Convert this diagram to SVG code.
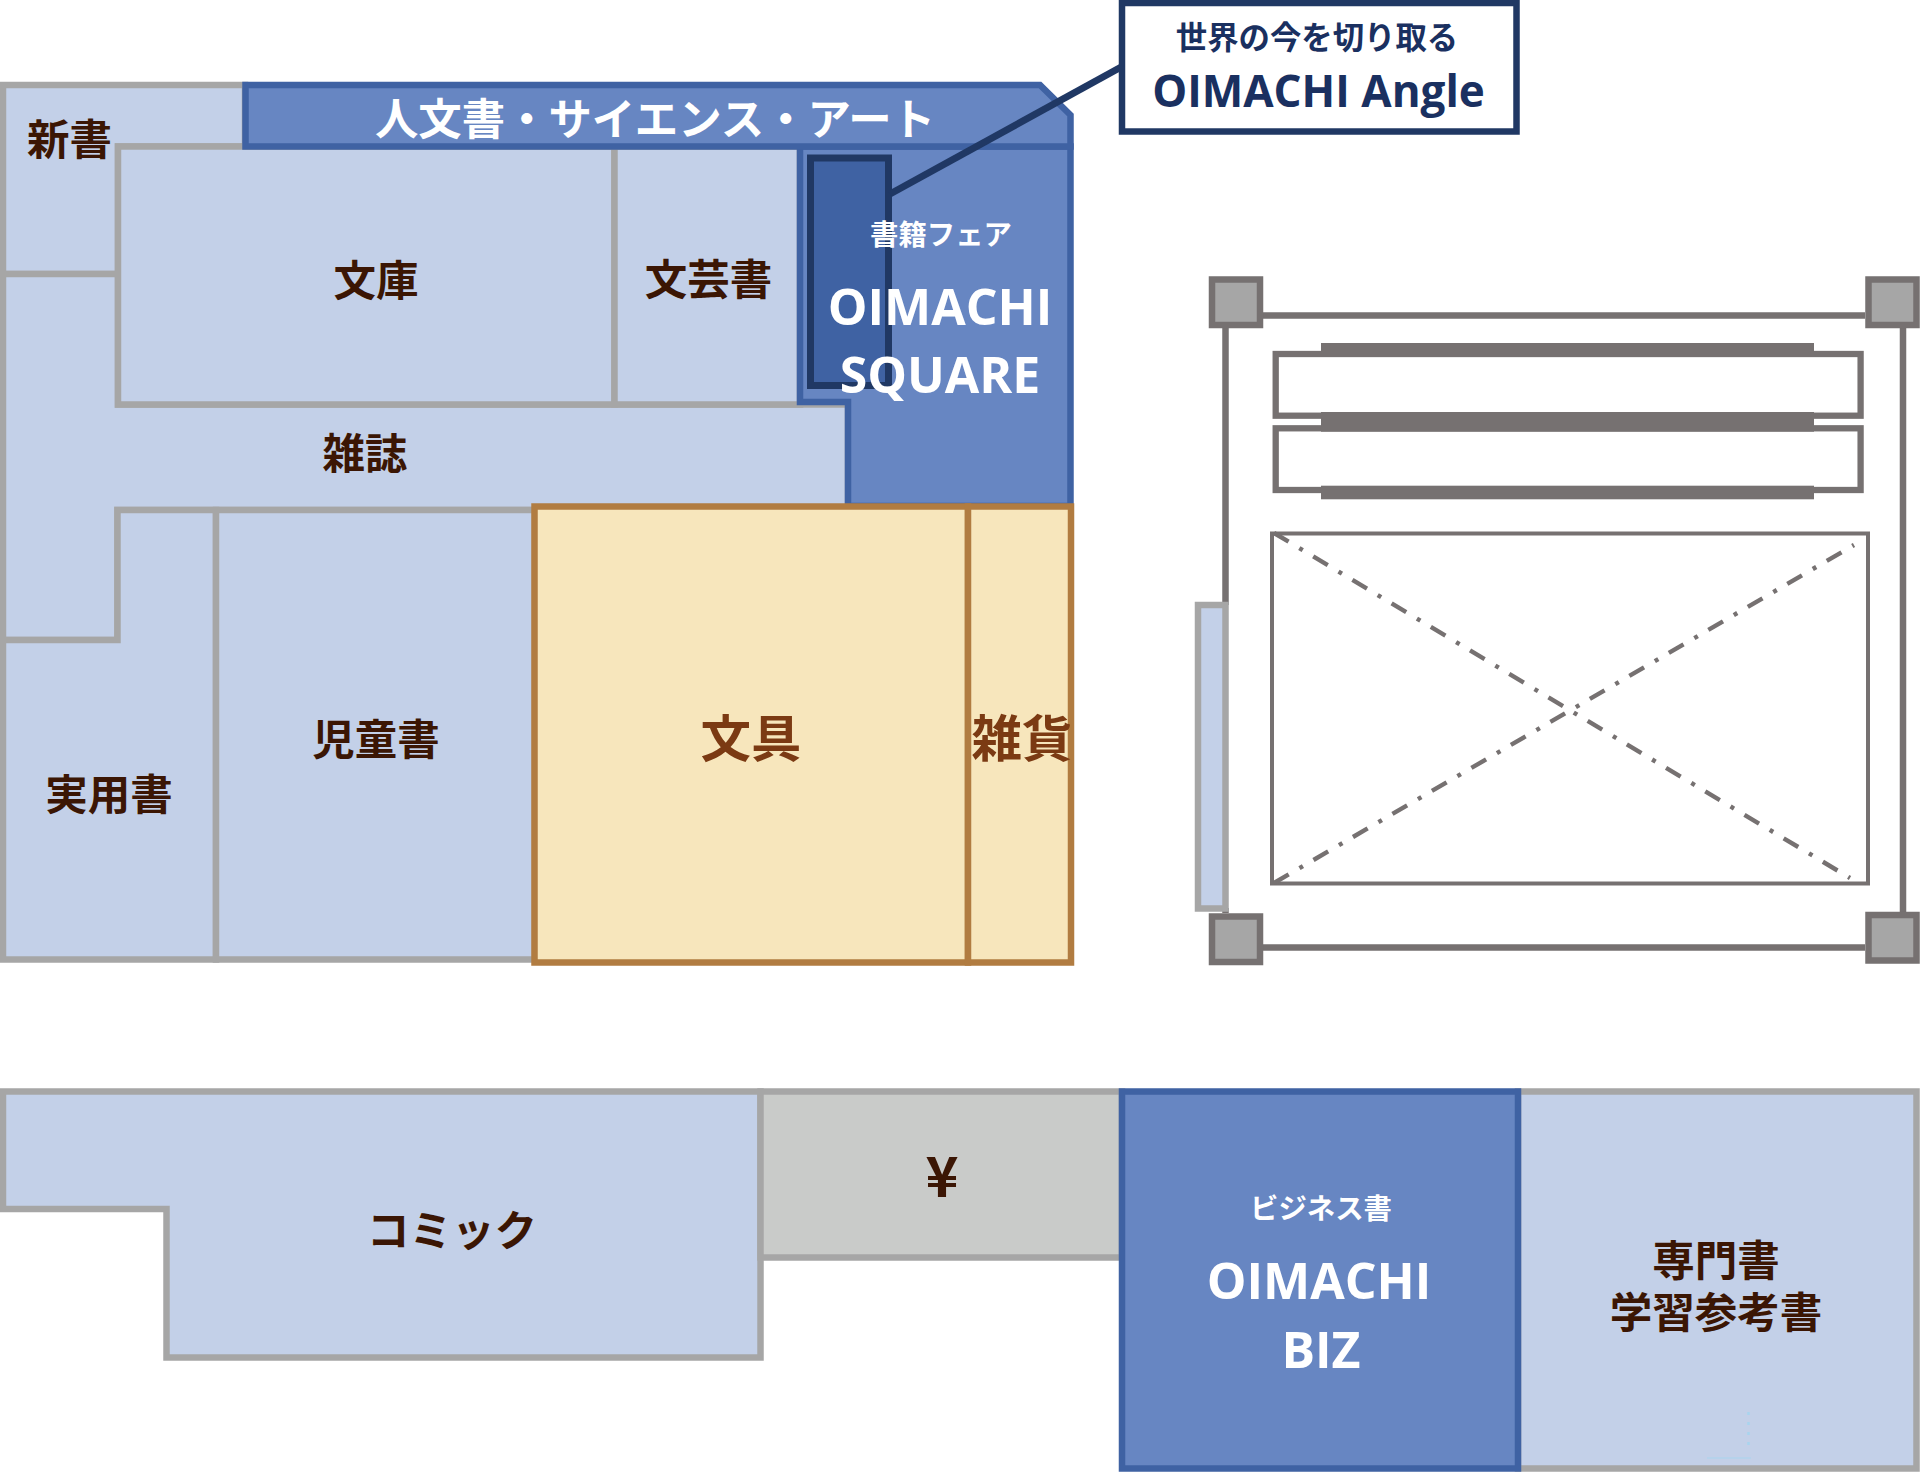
<svg xmlns="http://www.w3.org/2000/svg" width="1920" height="1472" viewBox="0 0 1920 1472">
<style>
text{font-family:"Noto Sans CJK JP","Noto Sans",sans-serif;text-anchor:middle}
.j{font-size:42.5px;font-weight:700;fill:#3b1604}
.y{font-size:50.5px;font-weight:700;fill:#7b3a13}
.w{font-size:43.4px;font-weight:700;fill:#fff}
.s{font-size:28.4px;font-weight:700;fill:#fff}
.l{font-family:"Open Sans","Noto Sans",sans-serif;font-size:50px;font-weight:700;fill:#fff}
.zone{fill:#c3d0e8;stroke:#a6a6a6;stroke-width:6.5;stroke-linejoin:miter}
.gz{fill:#c9cbc9;stroke:#a6a6a6;stroke-width:6.5}
.bz{fill:#6786c2;stroke:#3f62a3;stroke-width:6.5}
.yz{fill:#f7e6bc;stroke:#b17c41;stroke-width:6.5}
.wall{fill:none;stroke:#767171;stroke-width:6.5}
.post{fill:#a6a6a6;stroke:#767171;stroke-width:6.5}
.slat{fill:#fff;stroke:#767171;stroke-width:6.3}
.bar{fill:#767171}
.diag{fill:none;stroke:#767171;stroke-width:4.4;stroke-dasharray:17 12.5 4 12.2}
</style>

<g id="shinsho"><path class="zone" d="M3 85H245V146.5H118V274H3Z"/><text class="j" x="69.5" y="155">新書</text></g>
<g id="zasshi"><path class="zone" d="M3 274H118V404.5H848V510H117.5V640H3Z"/><text class="j" x="365" y="469">雑誌</text></g>
<g id="bunko"><rect class="zone" x="118" y="146.5" width="496.5" height="258"/><text class="j" x="376" y="295.5">文庫</text></g>
<g id="bungei"><rect class="zone" x="614.5" y="146.5" width="185.5" height="258"/><text class="j" x="708.5" y="294.5">文芸書</text></g>
<g id="jitsuyo"><path class="zone" d="M3 640H117.5V510H216V959.5H3Z"/><text class="j" x="109" y="810">実用書</text></g>
<g id="jido"><rect class="zone" x="216" y="510" width="319" height="449.5"/><text class="j" x="376" y="755">児童書</text></g>

<g id="oimachi-square"><path class="bz" d="M800 146.5H1070.5V506H848V402H800Z"/></g>
<g id="jinbun"><path class="bz" d="M245.5 85H1040L1070.5 115V146.5H245.5Z"/><text class="w" x="655" y="134.5">人文書・サイエンス・アート</text></g>
<g id="angle-shelf"><rect x="810.5" y="158" width="78" height="227.5" fill="#3f62a3" stroke="#203864" stroke-width="7"/></g>
<g id="oimachi-square-label"><text class="s" x="941" y="245">書籍フェア</text><text class="l" x="940" y="325">OIMACHI</text><text class="l" x="940" y="393">SQUARE</text></g>

<g id="bungu"><rect class="yz" x="534.5" y="506.5" width="433.5" height="456"/><text class="y" x="751" y="757">文具</text></g>
<g id="zakka"><rect class="yz" x="968" y="506.5" width="103" height="456"/><text class="y" x="1022" y="757">雑貨</text></g>

<g id="connectors"><line x1="890" y1="194" x2="1123" y2="66" stroke="#203864" stroke-width="7"/></g>

<g id="angle-callout"><rect x="1122" y="3" width="394.5" height="128.5" fill="#fff" stroke="#203864" stroke-width="6.5"/>
<text x="1317" y="49" font-size="31.4" font-weight="700" fill="#1a3060">世界の今を切り取る</text>
<text class="l" x="1318.5" y="107" style="font-size:44px;fill:#1a3060">OIMACHI Angle</text></g>

<g id="elevator">
<path class="wall" d="M1263 315.5H1865M1263 947.5H1865M1225.5 328V605M1225.5 908V913M1903 328V912"/>
<rect class="slat" x="1275.7" y="354" width="584.9" height="61.7"/>
<rect class="slat" x="1275.7" y="428.3" width="584.9" height="61.7"/>
<rect class="bar" x="1321" y="343" width="493" height="14"/>
<rect class="bar" x="1321" y="412" width="493" height="19.7"/>
<rect class="bar" x="1321" y="485.7" width="493" height="13.6"/>
<rect x="1272" y="533.5" width="596" height="350" fill="#fff" stroke="#767171" stroke-width="4"/>
<path class="diag" d="M1274 533L1850 878M1274 883L1854 545"/>
<rect x="1198" y="605" width="27.5" height="303.5" fill="#c3d0e8" stroke="#a6a6a6" stroke-width="6.5"/>
<rect class="post" x="1212" y="279.5" width="48" height="45.5"/>
<rect class="post" x="1868.5" y="279.5" width="48" height="45.5"/>
<rect class="post" x="1212" y="916.5" width="48" height="45.5"/>
<rect class="post" x="1868.5" y="915" width="48" height="45.5"/>
</g>

<g id="comic"><path class="zone" d="M3 1091.5H760.5V1357.5H166.5V1209H3Z"/><text class="j" x="452" y="1246">コミック</text></g>
<g id="register"><rect class="gz" x="760.5" y="1091.5" width="361.5" height="166"/><text x="942" y="1197" font-size="56" font-weight="700" fill="#3b1604">¥</text></g>
<g id="senmon"><rect class="zone" x="1518" y="1091.5" width="398.5" height="377"/><text class="j" x="1716" y="1276">専門書</text><text class="j" x="1716" y="1327.5">学習参考書</text>
<path d="M1748.5 1412V1452" stroke="#a9d4ee" stroke-width="2.5" stroke-dasharray="3 7" fill="none"/><path d="M1707 1458H1751" stroke="#a9d4ee" stroke-width="1" fill="none"/></g>
<g id="oimachi-biz"><rect class="bz" x="1122" y="1091.5" width="396" height="377"/><text class="s" x="1321" y="1219">ビジネス書</text><text class="l" x="1319" y="1299">OIMACHI</text><text class="l" x="1321" y="1368">BIZ</text></g>
</svg>
